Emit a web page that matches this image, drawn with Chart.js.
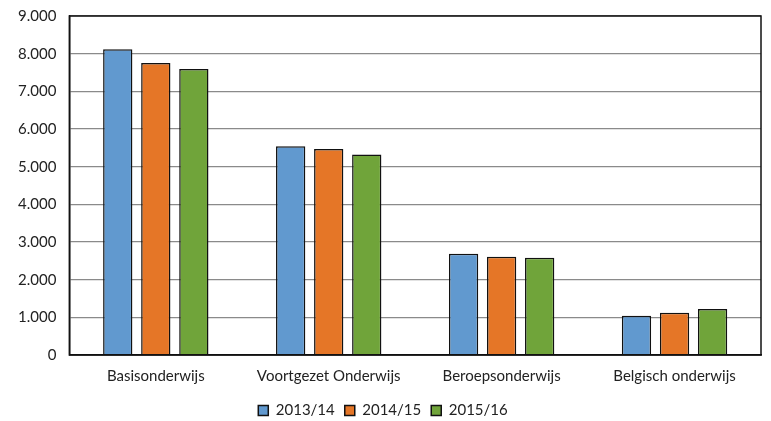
<!DOCTYPE html>
<html>
<head>
<meta charset="utf-8">
<script src="https://cdn.jsdelivr.net/npm/chart.js@4/dist/chart.umd.min.js"></script>
<style>
  html, body { margin: 0; padding: 0; background: #fff; }
  #wrap { width: 771px; height: 421px; }
</style>
</head>
<body>
<div id="wrap"><canvas id="chart"></canvas></div>
<script>
const categories = ['Basisonderwijs', 'Voortgezet Onderwijs', 'Beroepsonderwijs', 'Belgisch onderwijs'];
const years = ['2013/14', '2014/15', '2015/16'];
const values2013 = [8120, 5540, 2690, 1040];
const values2014 = [7750, 5470, 2610, 1120];
const values2015 = [7590, 5320, 2580, 1220];
const colors = ['#6199CF', '#E57627', '#70A43A'];

const seriesValues = [values2013, values2014, values2015];

function dotted(v) {
    return v.toString().replace(/\B(?=(\d{3})+(?!\d))/g, '.');
}

const ctx = document.getElementById('chart').getContext('2d');
new Chart(ctx, {
    type: 'bar',
    data: {
        labels: categories,
        datasets: years.map((y, i) => ({
            label: y,
            data: seriesValues[i],
            backgroundColor: colors[i],
            borderColor: '#111',
            borderWidth: 1.5,
            categoryPercentage: 0.66,
            barPercentage: 0.77
        }))
    },
    options: {
        responsive: true,
        maintainAspectRatio: false,
        animation: false,
        layout: { padding: { left: 5, right: 10, top: 0, bottom: -7 } },
        plugins: {
            legend: {
                position: 'bottom',
                labels: {
                    boxWidth: 10,
                    boxHeight: 10,
                    padding: 10,
                    color: '#222',
                    font: { family: 'Lato', size: 15 }
                }
            },
            tooltip: { enabled: false }
        },
        scales: {
            x: {
                grid: { display: false, drawTicks: false },
                border: { color: '#111', width: 1.5 },
                ticks: { color: '#222', padding: 12, font: { family: 'Lato', size: 15 } },
                afterFit: s => { s.height -= 4; }
            },
            y: {
                min: 0,
                max: 9000,
                grid: { color: '#8a8a8a', lineWidth: 1.3, drawTicks: false },
                border: { color: '#111', width: 1.5 },
                ticks: {
                    stepSize: 1000,
                    padding: 13,
                    color: '#222',
                    font: { family: 'Lato', size: 15 },
                    callback: v => dotted(v)
                },
                afterFit: s => { s.paddingTop = 16; }
            }
        }
    },
    plugins: [{
        id: 'frame',
        afterDraw(chart) {
            const a = chart.chartArea;
            const c = chart.ctx;
            c.save();
            c.strokeStyle = '#111';
            c.lineWidth = 1.5;
            c.strokeRect(a.left, a.top, a.right - a.left, a.bottom - a.top);
            c.restore();
        }
    }]
});
</script>
</body>
</html>
